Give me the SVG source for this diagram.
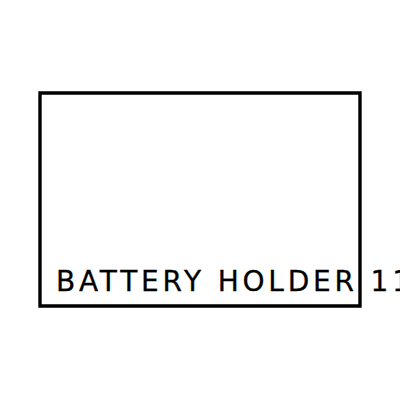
<svg xmlns="http://www.w3.org/2000/svg" width="400" height="400" viewBox="0 0 400 400">
<style>
.box{fill:none;stroke:#000;stroke-width:3.4;stroke-linecap:square}
.lbl{font-family:"DejaVu Sans",sans-serif;font-size:28px;letter-spacing:3.8px;fill:#000;stroke:#000;stroke-width:0.3}
</style>
<rect width="400" height="400" fill="#fff"/>
<g id="battery-holder">
<path class="box" d="M40 93 H360 V306 H40 Z"/>
<text class="lbl" x="56" y="291">BATTERY HOLDER 11</text>
</g>
</svg>
